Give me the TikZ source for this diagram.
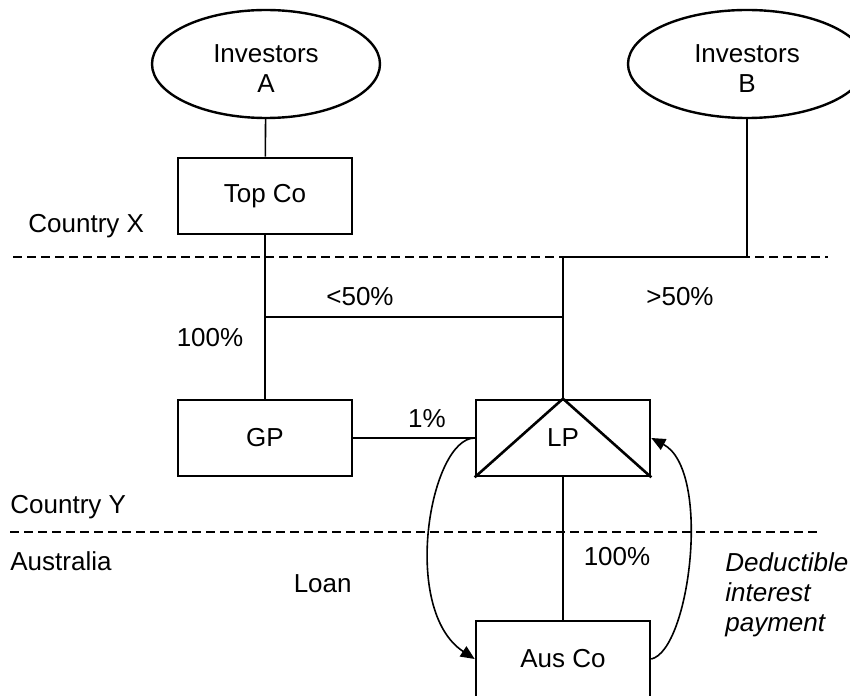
\documentclass[tikz,border=0pt]{standalone}
\usepackage{fontspec}
\setmainfont{Liberation Sans}
\usetikzlibrary{shapes.geometric,arrows.meta}
\begin{document}
\begin{tikzpicture}[x=0.5pt,y=-0.5pt,
  every node/.style={font=\fontsize{13}{15}\selectfont},
  entity/.style={draw,line width=1.3pt,rectangle,minimum width=87pt,minimum height=38pt,inner sep=0pt},
  investor/.style={draw,line width=1.2pt,ellipse,minimum width=114pt,minimum height=54pt,inner sep=0pt},
  link/.style={line width=0.8pt},
  border/.style={line width=0.9pt,dash pattern=on 4.5pt off 2.5pt},
  flow/.style={line width=0.8pt,-{Triangle[length=7pt,width=6pt]}},
  lbl/.style={inner sep=0pt}]
\useasboundingbox (0,0) rectangle (850,695);
% dashed borders
\coordinate (bx1) at (13,257);
\coordinate (bx2) at (828,257);
\coordinate (by1) at (10,532);
\coordinate (by2) at (820,532);
\draw[border] (bx1) -- (bx2);
\draw[border] (by1) -- (by2);
% nodes
\node[investor] (invA) at (266,64) {};
\node[lbl,align=center] (invAt) at (266,69) {Investors\\A};
\node[investor,minimum width=119pt] (invB) at (747,64) {};
\node[lbl,align=center] (invBt) at (747,69) {Investors\\B};
\node[entity] (topco) at (265,196) {Top Co};
\node[entity] (gp) at (265,438) {GP};
\node[entity] (lp) at (563,438) {};
\node[lbl] (lpt) at (563,438) {LP};
\node[entity] (aus) at (563,659) {Aus Co};
\draw[line width=1.3pt] (lp.south west) -- (lp.north) -- (lp.south east);
% connectors
\coordinate (ja) at (265,317);
\coordinate (jb) at (563,317);
\coordinate (jc) at (563,257);
\draw[link] (invA) -- (topco);
\draw[link] (topco) -- (gp);
\draw[link] (ja) -- (jb);
\draw[link] (invB.south) |- (jc) -- (lp.north);
\draw[link] (gp.east) -- (lp.west);
\draw[link] (lp.south) -- (aus.north);
\draw[flow] (lp.west) .. controls (430,438) and (400,610) .. (aus.west);
\draw[flow] (aus.east) .. controls (690,650) and (712,470) .. (lp.east);
% labels
\node[lbl,anchor=base west] (cx) at (28,233) {Country X};
\node[lbl,anchor=base] (lt50) at (360,305) {<50\%};
\node[lbl,anchor=base] (gt50) at (680,305) {>50\%};
\node[lbl,anchor=base] (p100a) at (210,346) {100\%};
\node[lbl,anchor=base] (p1) at (427,427) {1\%};
\node[lbl,anchor=base west] (cy) at (10,513) {Country Y};
\node[lbl,anchor=base west] (au) at (10,570) {Australia};
\node[lbl,anchor=base] (p100b) at (617,565) {100\%};
\node[lbl,anchor=base east] (loan) at (352,592) {Loan};
\node[lbl,anchor=north west,align=left,font=\fontsize{13}{15}\selectfont\itshape] (ded) at (725,552) {Deductible\\interest\\payment};
\end{tikzpicture}
\end{document}
